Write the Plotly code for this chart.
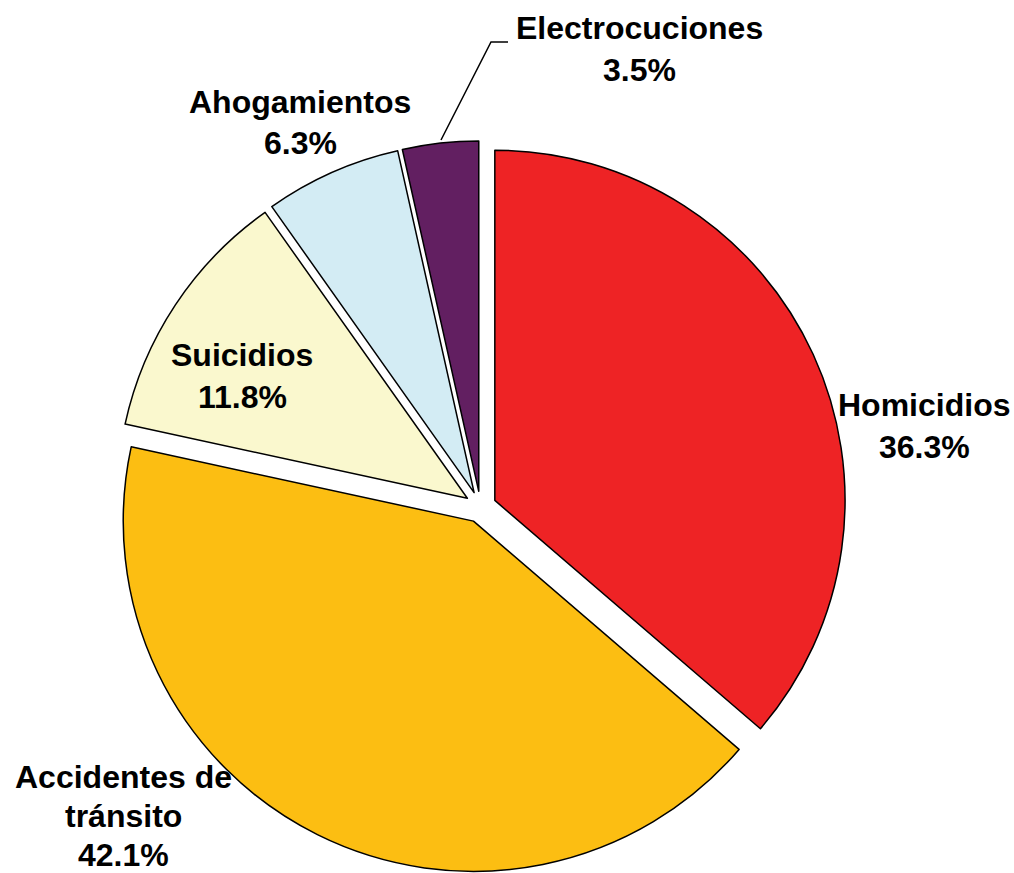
import plotly.graph_objects as go

labels = ["Homicidios", "Accidentes de tránsito", "Suicidios", "Ahogamientos", "Electrocuciones"]
label_lines = [["Homicidios"], ["Accidentes de"  , "tránsito"], ["Suicidios"], ["Ahogamientos"], ["Electrocuciones"]]
values = [36.3, 42.1, 11.8, 6.3, 3.5]
colors = ["#EE2325", "#FCBE12", "#FAF8CE", "#D3ECF4", "#621F61"]
pulls = [0.045, 0.045, 0.045, 0.045, 0.045]

W, H = 1014, 873
MT, MB = 141, 0
PH = H - MT - MB

def px(x):
    return x / W

def py(y):
    return (H - MB - y) / PH

# label placement: (centre x, first line centre y, line spacing) in pixels
label_pos = [(924, 405, 42), (123, 777, 39), (242, 355, 42), (300, 102, 41), (639, 28, 42)]

fig = go.Figure(go.Pie(
    labels=labels,
    values=values,
    sort=False,
    direction="clockwise",
    rotation=0,
    pull=pulls,
    marker=dict(colors=colors, line=dict(color="black", width=1.5)),
    textinfo="none",
    hoverinfo="label+percent",
    domain=dict(x=[114.5 / W, 846.5 / W], y=[0, 1]),
    showlegend=False,
))

font = dict(family="Liberation Sans, Arial, sans-serif", size=32, color="black")
for lines, v, (x, y0, dy) in zip(label_lines, values, label_pos):
    all_lines = lines + [f"{v:.1f}%"]
    for i, t in enumerate(all_lines):
        fig.add_annotation(
            x=px(x), y=py(y0 + i * dy), xref="paper", yref="paper",
            text=f"<b>{t}</b>",
            showarrow=False, align="center",
            xanchor="center", yanchor="middle",
            font=font,
        )

# leader line for Electrocuciones
fig.add_shape(
    type="path",
    path=f"M {px(441)},{py(140)} L {px(491)},{py(42)} L {px(508)},{py(42)}",
    xref="paper", yref="paper",
    line=dict(color="black", width=1.5),
)

fig.update_layout(
    width=W, height=H,
    margin=dict(l=0, r=0, t=MT, b=MB),
    paper_bgcolor="white",
    plot_bgcolor="white",
)

fig.write_html(
    "out.html",
    config={"displayModeBar": False},
    post_script="document.body.style.margin='0';document.body.style.overflow='hidden';",
)
